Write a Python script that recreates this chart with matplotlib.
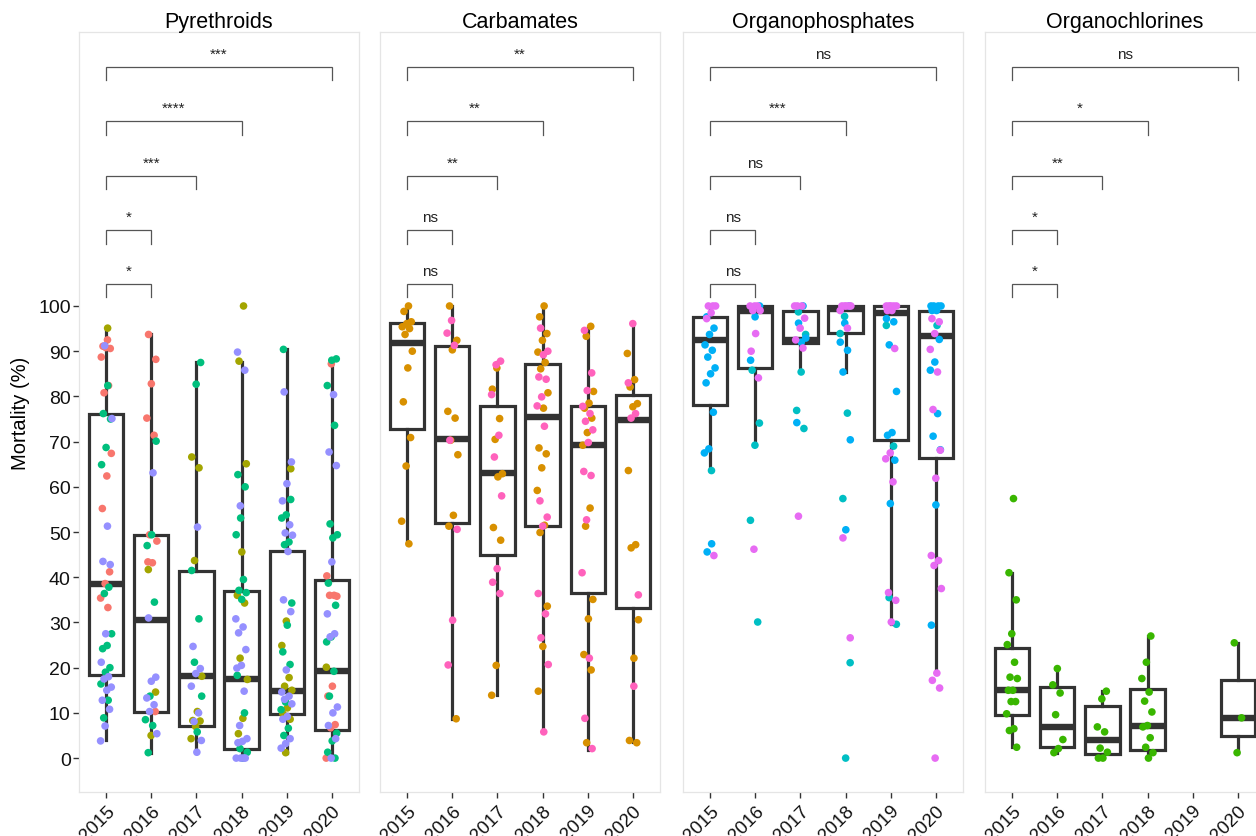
import numpy as np
import matplotlib
matplotlib.use("Agg")
import matplotlib.pyplot as plt

plt.rcParams['font.family'] = ['Liberation Sans', 'DejaVu Sans']

YEARS = [2015, 2016, 2017, 2018, 2019, 2020]
FACETS = ["Pyrethroids", "Carbamates", "Organophosphates", "Organochlorines"]

# ---- points per insecticide (series) and year ----
pyr_1 = {2015: [92.5, 91.1, 90.6, 90.8, 88.7, 82.4, 80.8, 67.4, 62.4, 55.2, 41.2, 38.6, 35.4, 33.3],
         2016: [93.7, 88.2, 82.8, 75.2, 71.4, 49.4, 48.0, 43.2, 43.4, 10.3],
         2020: [87.2, 40.3, 36.0, 36.0, 35.8, 15.9, 13.7, 7.4, 6.7, 0.0]}
pyr_2 = {2015: [95.1],
         2016: [41.7, 14.6, 5.0],
         2017: [66.6, 64.2, 43.7, 18.1, 10.3, 8.3, 8.2, 7.0, 4.3],
         2018: [100.0, 87.8, 65.1, 45.6, 36.0, 34.3, 22.1, 17.4, 8.8, 5.4],
         2019: [64.0, 30.3, 24.9, 17.8, 15.9, 15.0, 11.1, 9.8, 8.6, 1.2],
         2020: [20.1]}
pyr_3 = {2015: [82.4, 76.2, 75.0, 68.7, 64.9, 37.8, 36.4, 27.5, 24.9, 24.2, 20.0, 19.0, 16.4, 12.8, 8.9],
         2016: [70.1, 49.4, 47.0, 34.5, 13.7, 8.5, 7.2, 1.2],
         2017: [87.5, 82.7, 41.5, 30.8, 21.2, 13.7, 5.8],
         2018: [62.7, 60.0, 53.1, 49.4, 39.5, 37.1, 36.6, 35.1, 18.3, 10.0, 2.1, 1.3, 0.0],
         2019: [90.4, 57.2, 53.8, 53.1, 47.8, 47.2, 34.3, 29.4, 23.5, 20.7, 12.4, 10.7, 6.6, 5.0],
         2020: [88.3, 88.0, 82.4, 73.6, 51.8, 49.4, 48.7, 38.7, 33.8, 26.8, 25.7, 19.2, 13.7, 5.5, 3.8, 1.3, 0.0]}
pyr_4 = {2015: [91.2, 75.1, 51.3, 43.5, 42.8, 27.5, 21.2, 18.0, 17.5, 15.7, 15.0, 12.8, 10.8, 7.1, 3.8],
         2016: [63.1, 31.0, 17.9, 17.0, 13.3, 11.8, 10.3, 5.4],
         2017: [51.1, 24.7, 19.8, 18.7, 15.9, 10.0, 8.1, 3.9, 1.3],
         2018: [89.8, 85.8, 55.8, 30.8, 29.0, 27.7, 24.0, 20.5, 19.9, 14.8, 7.2, 4.3, 3.7, 3.4, 0.0, 0.0, 0.0, 0.0],
         2019: [81.0, 65.5, 60.7, 56.9, 51.6, 49.8, 49.3, 45.7, 35.0, 32.4, 19.5, 14.6, 13.7, 13.0, 12.0, 9.2, 8.6, 4.3, 3.2, 2.2],
         2020: [80.4, 67.7, 64.7, 43.4, 31.9, 27.5, 26.8, 11.3, 10.0, 7.2, 4.3, 0.0]}

carb_1 = {2015: [100.0, 98.8, 96.5, 96.1, 95.4, 95.0, 93.7, 90.0, 86.3, 78.8, 70.9, 64.6, 52.4, 47.4],
          2016: [100.0, 92.4, 90.3, 76.7, 75.2, 70.3, 67.1, 53.7, 51.3, 8.7],
          2017: [86.3, 81.6, 75.1, 70.5, 62.9, 62.2, 51.0, 48.2, 20.5, 13.9],
          2018: [100.0, 97.6, 93.9, 92.4, 89.8, 87.5, 86.1, 80.8, 77.4, 68.6, 67.3, 64.2, 59.2, 51.5, 49.9, 33.6, 24.7, 14.8],
          2019: [95.5, 93.3, 81.1, 78.5, 77.4, 75.2, 72.0, 69.2, 55.3, 51.3, 35.1, 30.8, 22.9, 19.5, 3.4],
          2020: [89.5, 83.7, 82.1, 78.4, 77.7, 63.6, 47.2, 46.5, 30.6, 22.1, 3.9, 3.4]}
carb_2 = {2016: [96.8, 94.0, 91.3, 70.3, 50.6, 30.5, 20.6],
          2017: [87.8, 87.0, 80.4, 71.4, 66.6, 58.0, 41.9, 38.9, 36.4],
          2018: [95.1, 90.0, 89.2, 84.3, 83.8, 79.9, 77.9, 73.4, 56.9, 53.3, 51.3, 36.4, 31.9, 26.6, 20.7, 5.8],
          2019: [94.6, 85.2, 81.3, 77.8, 76.2, 74.5, 72.6, 69.8, 63.4, 62.5, 52.7, 41.0, 22.1, 8.8, 2.1],
          2020: [96.1, 83.0, 76.2, 75.2, 36.1, 15.9]}

op_1 = {2015: [63.6],
        2016: [85.8, 74.1, 69.2, 52.6, 30.1],
        2017: [98.7, 93.7, 85.4, 76.9, 72.9],
        2018: [97.7, 93.9, 76.3, 57.4, 21.1, 0.0],
        2019: [95.7, 69.0, 35.5, 29.6],
        2020: [95.7]}
op_2 = {2015: [97.6, 95.1, 93.7, 91.4, 90.2, 88.7, 86.3, 85.0, 83.0, 76.5, 68.4, 67.5, 47.4, 45.6],
        2016: [100.0, 97.6, 88.0],
        2017: [100.0, 96.2, 92.9, 92.0, 74.2],
        2018: [100.0, 96.2, 92.0, 90.2, 85.4, 70.4, 50.5],
        2019: [97.2, 96.5, 91.4, 81.1, 72.0, 71.4, 65.9, 56.3],
        2020: [100.0, 100.0, 100.0, 100.0, 99.0, 99.0, 92.6, 87.6, 85.8, 76.2, 71.2, 68.2, 56.0, 29.4]}
op_3 = {2015: [100.0, 100.0, 100.0, 98.5, 97.2, 44.8],
        2016: [100.0, 100.0, 100.0, 99.0, 99.0, 93.9, 90.0, 84.1, 46.2],
        2017: [100.0, 100.0, 100.0, 97.3, 95.1, 92.5, 90.7, 53.5],
        2018: [100.0, 100.0, 100.0, 100.0, 100.0, 99.0, 95.1, 48.7, 26.6],
        2019: [100.0, 100.0, 100.0, 100.0, 100.0, 99.0, 99.0, 90.6, 67.5, 66.2, 61.1, 36.6, 34.9, 30.1],
        2020: [97.2, 96.5, 93.9, 90.4, 85.4, 77.1, 68.1, 61.9, 44.8, 43.7, 42.6, 37.5, 18.8, 17.2, 15.5, 0.0]}

oc_1 = {2015: [57.4, 41.0, 35.0, 27.5, 25.1, 21.2, 17.9, 17.6, 15.0, 15.0, 12.5, 12.5, 9.8, 6.5, 6.1, 2.4],
        2016: [19.8, 16.2, 14.4, 9.6, 4.1, 2.1, 1.2],
        2017: [14.8, 13.1, 6.9, 5.8, 2.2, 1.3, 0.0, 0.0],
        2018: [27.0, 21.2, 17.6, 14.6, 12.6, 10.2, 7.2, 6.9, 4.5, 2.4, 1.2, 0.0],
        2020: [25.5, 8.9, 1.2]}

# ---- box statistics per year: q1, median, q3, whisker low, whisker high ----
pyr_box_q1 = [18.3, 10.2, 7.2, 2.1, 9.8, 6.3]
pyr_box_med = [38.4, 30.6, 18.1, 17.4, 14.8, 19.2]
pyr_box_q3 = [76.0, 49.4, 41.3, 36.9, 45.9, 39.5]
pyr_box_lo = [3.9, 1.2, 1.2, 0.0, 1.2, 0.0]
pyr_box_hi = [95.0, 93.7, 87.5, 87.6, 90.4, 88.3]

carb_box_q1 = [72.9, 52.0, 45.0, 51.3, 36.6, 33.3]
carb_box_med = [91.9, 70.5, 63.0, 75.4, 69.2, 74.7]
carb_box_q3 = [96.2, 91.1, 77.8, 87.2, 77.8, 80.2]
carb_box_lo = [47.4, 8.7, 13.9, 5.8, 1.9, 3.5]
carb_box_hi = [100.0, 100.0, 87.5, 100.0, 95.4, 96.1]

op_box_q1 = [78.0, 86.3, 91.8, 94.0, 70.3, 66.4]
op_box_med = [92.5, 98.8, 92.5, 99.3, 98.5, 93.3]
op_box_q3 = [97.6, 100.0, 98.9, 100.0, 100.0, 98.9]
op_box_lo = [63.6, 69.2, 85.4, 85.4, 29.7, 18.8]
op_box_hi = [100.0, 100.0, 100.0, 100.0, 100.0, 100.0]

oc_box_years = [2015, 2016, 2017, 2018, 2020]
oc_box_q1 = [9.6, 2.4, 1.0, 1.9, 4.9]
oc_box_med = [15.0, 6.9, 3.9, 7.1, 8.9]
oc_box_q3 = [24.3, 15.7, 11.5, 15.3, 17.3]
oc_box_lo = [2.4, 1.2, 0.0, 0.0, 1.2]
oc_box_hi = [41.0, 19.8, 14.8, 27.0, 25.5]

# ---- pairwise comparisons (2015 vs year) ----
cmp_end_years = [2016, 2016, 2017, 2018, 2020]
pyr_sig = ["*", "*", "***", "****", "***"]
carb_sig = ["ns", "ns", "**", "**", "**"]
op_sig = ["ns", "ns", "ns", "***", "ns"]
oc_sig = ["*", "*", "**", "*", "ns"]
bracket_y = [104.9, 116.8, 128.8, 140.9, 152.9]

# colours (ggplot hue palette, 10 insecticides)
series = [
    [(pyr_1, "#F8766D"), (pyr_2, "#A3A500"), (pyr_3, "#00BF7D"), (pyr_4, "#9590FF")],
    [(carb_1, "#D89000"), (carb_2, "#FF62BC")],
    [(op_1, "#00BFC4"), (op_2, "#00B0F6"), (op_3, "#E76BF3")],
    [(oc_1, "#39B600")],
]
boxes = [
    (YEARS, pyr_box_q1, pyr_box_med, pyr_box_q3, pyr_box_lo, pyr_box_hi),
    (YEARS, carb_box_q1, carb_box_med, carb_box_q3, carb_box_lo, carb_box_hi),
    (YEARS, op_box_q1, op_box_med, op_box_q3, op_box_lo, op_box_hi),
    (oc_box_years, oc_box_q1, oc_box_med, oc_box_q3, oc_box_lo, oc_box_hi),
]
sigs = [pyr_sig, carb_sig, op_sig, oc_sig]

W, H = 1256, 837
fig = plt.figure(figsize=(W / 100, H / 100), dpi=100)
fig.patch.set_facecolor("white")

lefts = [79, 380, 683, 985]
pw = 280
top_px, bot_px = 33, 793
YMIN, YMAX = -7.5, 160.6
DARK = "#333333"

for fi, name in enumerate(FACETS):
    ax = fig.add_axes([lefts[fi] / W, 1 - bot_px / H, pw / W, (bot_px - top_px) / H])
    ax.set_xlim(0.4, 6.6)
    ax.set_ylim(YMIN, YMAX)
    for sp in ax.spines.values():
        sp.set_color("#E5E5E5")
        sp.set_linewidth(0.9)

    # boxes
    yrs, q1, med, q3, lo, hi = boxes[fi]
    stats = []
    pos = []
    for j, y in enumerate(yrs):
        stats.append(dict(q1=q1[j], med=med[j], q3=q3[j], whislo=lo[j], whishi=hi[j], fliers=[]))
        pos.append(YEARS.index(y) + 1)
    ax.bxp(stats, positions=pos, widths=0.76, showfliers=False, showcaps=False,
           patch_artist=True,
           boxprops=dict(facecolor="white", edgecolor=DARK, linewidth=2.3),
           whiskerprops=dict(color=DARK, linewidth=2.3),
           medianprops=dict(color=DARK, linewidth=4.6, solid_capstyle="butt"),
           zorder=2)

    # points
    k = 0
    for data, col in series[fi]:
        for y, vals in data.items():
            xc = YEARS.index(y) + 1
            offs = []
            for v in vals:
                k += 1
                offs.append((((k * 0.6180339887) % 1.0) - 0.5) * 0.26)
            ax.scatter(xc + np.array(offs), vals, s=30, color=col, edgecolors="none",
                       zorder=3, clip_on=False)

    # brackets
    for lvl, (ey, lab) in enumerate(zip(cmp_end_years, sigs[fi])):
        x1, x2 = 1, YEARS.index(ey) + 1
        yb = bracket_y[lvl]
        ax.plot([x1, x1, x2, x2], [yb - 3.0, yb, yb, yb - 3.0], color="#555555",
                linewidth=0.9, solid_joinstyle="miter", zorder=4)
        ax.text((x1 + x2) / 2, yb + 1.3, lab, ha="center", va="bottom",
                fontsize=11, color="#222222")

    ax.set_xticks(range(1, 7))
    ax.set_xticklabels([str(y) for y in YEARS], rotation=45, ha="right",
                       va="top", rotation_mode="anchor", fontsize=13.5, color="#111111")
    ax.tick_params(axis="x", length=4, width=1.0, color="#333333", pad=3)
    if fi == 0:
        ax.set_yticks(range(0, 101, 10))
        ax.set_yticklabels([str(v) for v in range(0, 101, 10)], fontsize=14, color="#111111")
        ax.tick_params(axis="y", length=4, width=1.0, color="#333333", pad=2)
        ax.set_ylabel("Mortality (%)", fontsize=14.5, labelpad=6)
    else:
        ax.set_yticks([])
    ax.set_title(name, fontsize=15.5, pad=3)

fig.savefig("out.png", dpi=100)
